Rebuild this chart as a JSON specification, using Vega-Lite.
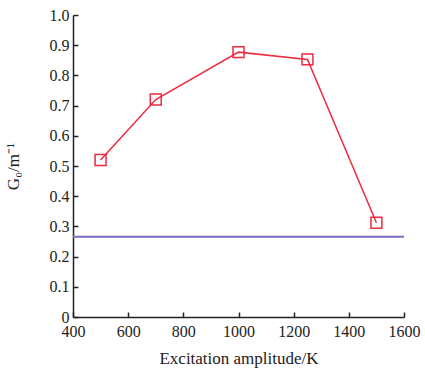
{
  "$schema": "https://vega.github.io/schema/vega-lite/v6.json",
  "autosize": {"type": "none"},
  "padding": {"left": 73, "top": 15, "right": 21, "bottom": 53},
  "width": 331,
  "height": 302,
  "background": "white",
  "config": {
    "view": {"stroke": null},
    "font": "Liberation Serif",
    "axis": {
      "grid": false,
      "domainColor": "#222",
      "domainWidth": 1.5,
      "tickColor": "#222",
      "tickWidth": 1.5,
      "tickSize": -5,
      "labelOverlap": false,
      "labelFont": "Liberation Serif",
      "labelFontSize": 16,
      "labelColor": "#222",
      "titleFont": "Liberation Serif",
      "titleFontSize": 17,
      "titleFontWeight": "normal",
      "titleColor": "#222"
    }
  },
  "datasets": {
    "series": [
      {"amp": 500, "g": 0.52},
      {"amp": 700, "g": 0.72},
      {"amp": 1000, "g": 0.877},
      {"amp": 1250, "g": 0.853},
      {"amp": 1500, "g": 0.312}
    ],
    "ref": [{"g": 0.266}]
  },
  "encoding": {
    "x": {
      "field": "amp", "type": "quantitative",
      "scale": {"domain": [400, 1600], "nice": false},
      "axis": {"values": [400, 600, 800, 1000, 1200, 1400, 1600], "format": "d", "labelPadding": 11, "title": "Excitation amplitude/K", "titlePadding": 11, "labelFlush": false}
    },
    "y": {
      "field": "g", "type": "quantitative",
      "scale": {"domain": [0, 1], "nice": false},
      "axis": {"values": [0, 0.1, 0.2, 0.3, 0.4, 0.5, 0.6, 0.7, 0.8, 0.9, 1.0], "labelExpr": "datum.value == 0 ? '0' : format(datum.value, '.1f')", "labelPadding": 9, "title": "G₀/m⁻¹", "titlePadding": 27, "labelFlush": false}
    }
  },
  "layer": [
    {
      "data": {"name": "ref"},
      "mark": {"type": "rule", "color": "#7a6cc4", "strokeWidth": 2},
      "encoding": {"x": null, "y": {"field": "g", "type": "quantitative"}}
    },
    {
      "data": {"name": "series"},
      "mark": {"type": "line", "color": "#ee2a3f", "strokeWidth": 1.5}
    },
    {
      "data": {"name": "series"},
      "mark": {"type": "point", "shape": "square", "size": 120, "filled": false, "color": "#ee2a3f", "strokeWidth": 1.5, "opacity": 1}
    }
  ]
}
